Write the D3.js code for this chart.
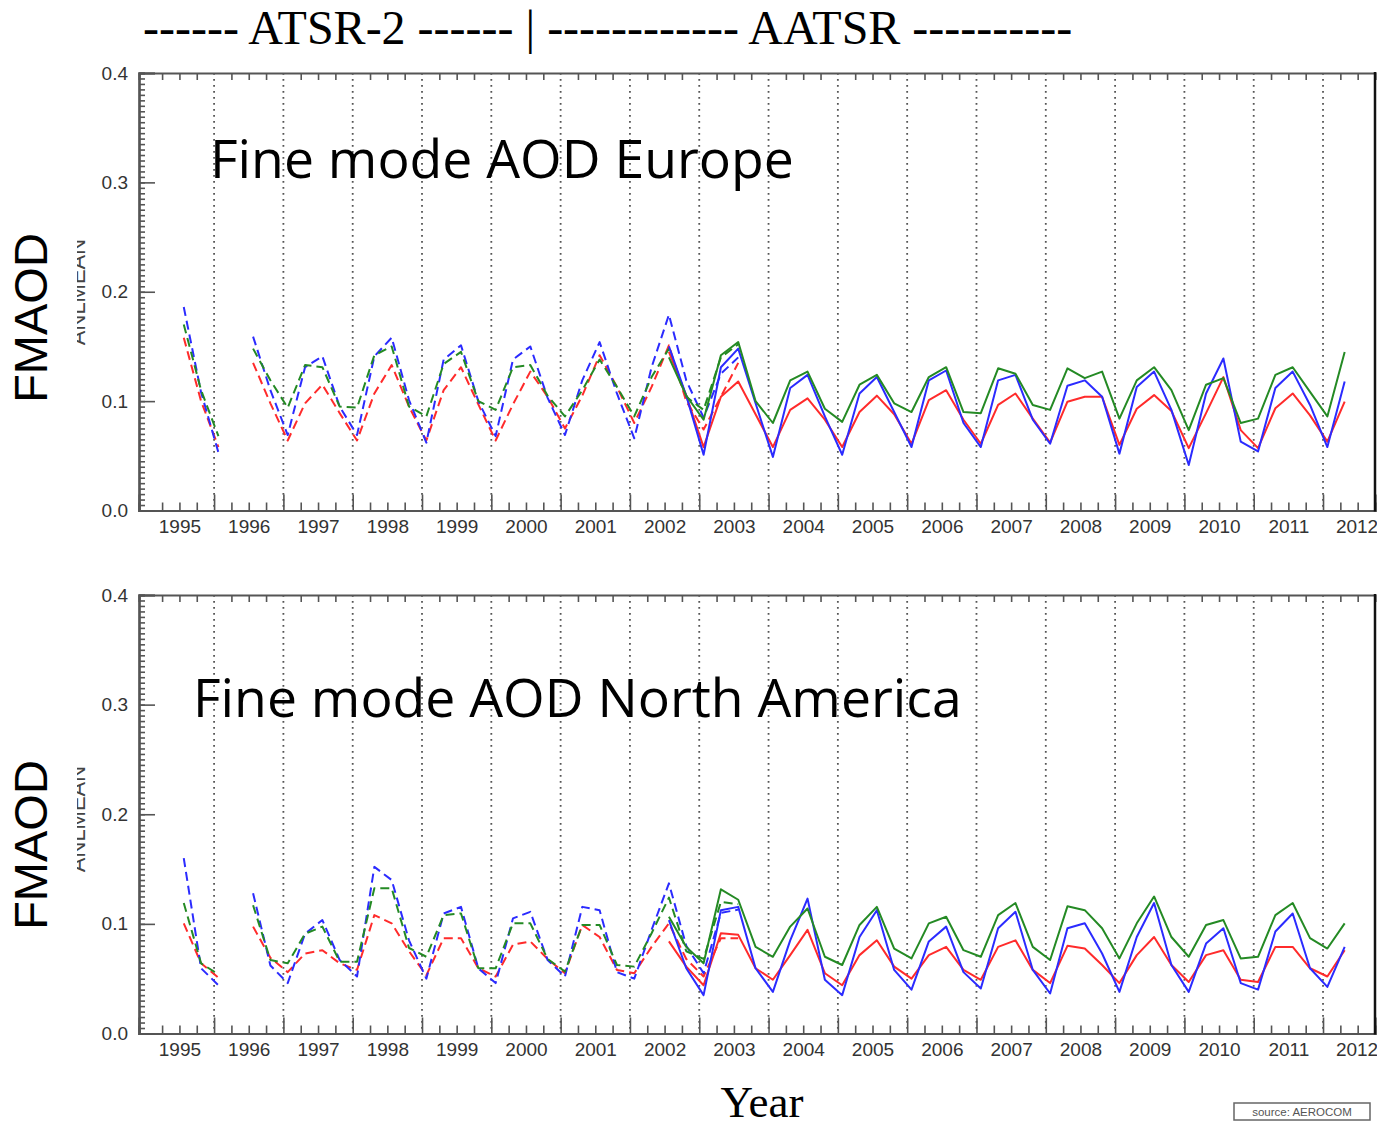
<!DOCTYPE html>
<html>
<head>
<meta charset="utf-8">
<script src="https://cdn.jsdelivr.net/npm/d3@7"></script>
<style>
  body { margin: 0; background: #fff; }
  svg { display: block; }
</style>
</head>
<body>
<svg id="chart" width="1377" height="1126"></svg>
<script>
// ---- Seasonal categories -------------------------------------------------
const seasonNames = ["DJF", "MAM", "JJA", "SON"];

function seasonRange(from, to) {
  const [y0, s0] = from.split("-");
  const [y1, s1] = to.split("-");
  const out = [];
  let y = +y0, i = seasonNames.indexOf(s0);
  while (y < +y1 || (y === +y1 && i <= seasonNames.indexOf(s1))) {
    out.push(y + "-" + seasonNames[i]);
    i++; if (i === 4) { i = 0; y++; }
  }
  return out;
}

// ATSR-2 record (dashed) and AATSR record (solid)
const atsr2Seasons = seasonRange("1995-JJA", "2003-JJA");
const aatsrSeasons = seasonRange("2002-JJA", "2012-MAM");

const yearLabels = [1995, 1996, 1997, 1998, 1999, 2000, 2001, 2002, 2003,
                    2004, 2005, 2006, 2007, 2008, 2009, 2010, 2011, 2012];
const yTickValues = [0.0, 0.1, 0.2, 0.3, 0.4];

// ---- Europe, fine mode AOD ----------------------------------------------
const eurAtsr2Red = [0.158, 0.100, 0.058, null, 0.135, 0.098, 0.064, 0.098, 0.115, 0.089,
  0.064, 0.107, 0.133, 0.095, 0.064, 0.110, 0.131, 0.097, 0.064, 0.097,
  0.127, 0.104, 0.075, 0.105, 0.142, 0.113, 0.080, 0.113, 0.151, 0.100,
  0.074, 0.104, 0.135];
const eurAtsr2Blue = [0.186, 0.108, 0.053, null, 0.159, 0.110, 0.069, 0.131, 0.141, 0.095,
  0.069, 0.141, 0.158, 0.101, 0.062, 0.138, 0.151, 0.100, 0.068, 0.138,
  0.150, 0.103, 0.069, 0.119, 0.154, 0.107, 0.066, 0.131, 0.179, 0.119,
  0.085, 0.125, 0.140];
const eurAtsr2Green = [0.170, 0.110, 0.068, null, 0.148, 0.119, 0.094, 0.133, 0.131, 0.095,
  0.094, 0.142, 0.150, 0.095, 0.086, 0.134, 0.145, 0.100, 0.092, 0.131,
  0.133, 0.105, 0.086, 0.110, 0.138, 0.113, 0.086, 0.122, 0.148, 0.104,
  0.092, 0.140, 0.152];

const eurAatsrRed = [0.145, 0.105, 0.058, 0.104, 0.118, 0.088, 0.058, 0.092, 0.1025, 0.083,
  0.058, 0.090, 0.105, 0.088, 0.061, 0.101, 0.110, 0.083, 0.061, 0.0965,
  0.107, 0.084, 0.062, 0.0995, 0.104, 0.104, 0.060, 0.093, 0.1055, 0.091,
  0.057, 0.089, 0.122, 0.0735, 0.057, 0.0935, 0.107, 0.087, 0.063, 0.0995];
const eurAatsrBlue = [0.150, 0.105, 0.051, 0.131, 0.148, 0.098, 0.049, 0.112, 0.124, 0.086,
  0.051, 0.107, 0.122, 0.090, 0.058, 0.119, 0.128, 0.080, 0.058, 0.119,
  0.124, 0.083, 0.061, 0.114, 0.119, 0.104, 0.052, 0.113, 0.127, 0.092,
  0.0416, 0.107, 0.139, 0.063, 0.054, 0.112, 0.127, 0.0965, 0.058, 0.118];
const eurAatsrGreen = [0.140, 0.105, 0.083, 0.142, 0.154, 0.100, 0.080, 0.119, 0.127, 0.093,
  0.081, 0.115, 0.124, 0.098, 0.090, 0.122, 0.131, 0.090, 0.089, 0.130,
  0.125, 0.0965, 0.092, 0.130, 0.121, 0.127, 0.084, 0.119, 0.131, 0.110,
  0.0735, 0.115, 0.121, 0.080, 0.084, 0.124, 0.131, 0.1085, 0.086, 0.145];

// ---- North America, fine mode AOD ---------------------------------------
const namAtsr2Red = [0.1005, 0.064, 0.051, null, 0.0975, 0.069, 0.056, 0.073, 0.076, 0.064,
  0.058, 0.108, 0.1005, 0.075, 0.053, 0.087, 0.087, 0.0595, 0.052, 0.081,
  0.084, 0.068, 0.055, 0.099, 0.088, 0.058, 0.055, 0.079, 0.1005, 0.068,
  0.052, 0.087, 0.087];
const namAtsr2Blue = [0.160, 0.0595, 0.044, null, 0.128, 0.062, 0.046, 0.091, 0.1035, 0.067,
  0.052, 0.152, 0.140, 0.085, 0.050, 0.1095, 0.1155, 0.0595, 0.046, 0.105,
  0.111, 0.067, 0.052, 0.1155, 0.1125, 0.056, 0.050, 0.0945, 0.137, 0.080,
  0.055, 0.110, 0.113];
const namAtsr2Green = [0.119, 0.064, 0.054, null, 0.117, 0.067, 0.064, 0.091, 0.0975, 0.0655,
  0.0655, 0.1325, 0.1325, 0.078, 0.070, 0.108, 0.1095, 0.0595, 0.0595, 0.1005,
  0.1005, 0.068, 0.0565, 0.099, 0.099, 0.0625, 0.061, 0.0915, 0.124, 0.075,
  0.068, 0.120, 0.118];

const namAatsrRed = [0.084, 0.061, 0.044, 0.0915, 0.090, 0.0595, 0.049, 0.0715, 0.0945, 0.055,
  0.044, 0.0715, 0.085, 0.061, 0.050, 0.0715, 0.079, 0.058, 0.049, 0.079,
  0.085, 0.058, 0.046, 0.080, 0.0775, 0.0625, 0.046, 0.0715, 0.088, 0.0625,
  0.047, 0.0715, 0.076, 0.049, 0.047, 0.079, 0.079, 0.0595, 0.052, 0.076];
const namAatsrBlue = [0.1035, 0.0595, 0.035, 0.1125, 0.1155, 0.0595, 0.038, 0.085, 0.123, 0.049,
  0.035, 0.088, 0.1125, 0.058, 0.040, 0.084, 0.0975, 0.056, 0.041, 0.096,
  0.111, 0.058, 0.0365, 0.096, 0.1005, 0.073, 0.038, 0.088, 0.119, 0.0625,
  0.038, 0.082, 0.096, 0.046, 0.040, 0.093, 0.1095, 0.0595, 0.0425, 0.079];
const namAatsrGreen = [0.1065, 0.079, 0.064, 0.1315, 0.122, 0.079, 0.070, 0.0975, 0.114, 0.070,
  0.0625, 0.099, 0.1155, 0.0775, 0.0685, 0.1005, 0.1065, 0.076, 0.070, 0.108,
  0.119, 0.079, 0.067, 0.116, 0.1125, 0.096, 0.0685, 0.1005, 0.125, 0.088,
  0.070, 0.099, 0.1035, 0.0685, 0.070, 0.108, 0.119, 0.087, 0.0775, 0.1005];

// ---- Layout ---------------------------------------------------------------
const COLORS = { red: "#ff2b2b", blue: "#2b2bff", green: "#248a24" };
const AXIS_COLOR = "#555";
const LABEL_FONT = "'Liberation Sans', Arial, sans-serif";

const panels = [
  { title: "Fine mode AOD Europe", top: 73, bottom: 510.5, titleX: 210, titleY: 178, ylabelY: 318,
    series: [
      [eurAtsr2Red, atsr2Seasons, "red", true], [eurAtsr2Blue, atsr2Seasons, "blue", true],
      [eurAtsr2Green, atsr2Seasons, "green", true],
      [eurAatsrRed, aatsrSeasons, "red", false], [eurAatsrBlue, aatsrSeasons, "blue", false],
      [eurAatsrGreen, aatsrSeasons, "green", false]] },
  { title: "Fine mode AOD North America", top: 595, bottom: 1033.5, titleX: 193, titleY: 717, ylabelY: 845,
    series: [
      [namAtsr2Red, atsr2Seasons, "red", true], [namAtsr2Blue, atsr2Seasons, "blue", true],
      [namAtsr2Green, atsr2Seasons, "green", true],
      [namAatsrRed, aatsrSeasons, "red", false], [namAatsrBlue, aatsrSeasons, "blue", false],
      [namAatsrGreen, aatsrSeasons, "green", false]] }
];

const LEFT = 139, RIGHT = 1375;

// Time axis in decimal years; plotted range runs Dec 1994 .. Oct 2012
const x = d3.scaleLinear().domain([1995 - 1 / 12, 2012 + 9 / 12]).range([LEFT, RIGHT]);

// Season mid-point as decimal year
function seasonTime(label) {
  const [y, s] = label.split("-");
  return +y + (seasonNames.indexOf(s) * 3 + 0.75) / 12;
}

const svg = d3.select("#chart");
svg.append("rect").attr("width", 1377).attr("height", 1126).attr("fill", "#fff");

const yearBounds = d3.range(1996, 2013);
const quarterTicks = d3.range(1995 * 4, 2012 * 4 + 3).map(q => q / 4)
  .filter(t => t > x.domain()[0] && t < x.domain()[1] && t % 1 !== 0);
const yMinor = d3.range(0, 81).map(i => i * 0.005);

const defs = svg.append("defs");

panels.forEach((p, pi) => {
  const y = d3.scaleLinear().domain([0, 0.4]).range([p.bottom, p.top]);
  const g = svg.append("g");

  // dotted year separators
  g.append("g").selectAll("line").data(yearBounds).join("line")
    .attr("x1", d => x(d)).attr("x2", d => x(d))
    .attr("y1", p.top).attr("y2", p.bottom)
    .attr("stroke", "#555").attr("stroke-width", 1.8)
    .attr("stroke-dasharray", "1.8,4.2");

  // series
  const line = d3.line()
    .defined(d => d.v != null)
    .x(d => x(seasonTime(d.s)))
    .y(d => y(d.v));
  p.series.forEach(([vals, seasons, col, dashed]) => {
    const pts = vals.map((v, i) => ({ v, s: seasons[i] }));
    g.append("path").datum(pts)
      .attr("d", line)
      .attr("fill", "none")
      .attr("stroke", COLORS[col])
      .attr("stroke-width", 2)
      .attr("stroke-linejoin", "round")
      .attr("stroke-dasharray", dashed ? "9,5" : null);
  });

  // bottom axis: major ticks at year boundaries, minor at quarters
  const bottomMajor = g.append("g").attr("transform", `translate(0,${p.bottom})`)
    .call(d3.axisBottom(x).tickValues(yearBounds).tickSize(-16).tickFormat(""));
  const bottomMinor = g.append("g").attr("transform", `translate(0,${p.bottom})`)
    .call(d3.axisBottom(x).tickValues(quarterTicks).tickSize(-8).tickFormat(""));
  const bottomLabels = g.append("g").attr("transform", `translate(0,${p.bottom})`)
    .call(d3.axisBottom(x).tickValues(yearLabels.map(yy => yy + 0.5))
      .tickSize(0).tickPadding(9).tickFormat(d => String(Math.floor(d))));
  const topMinor = g.append("g").attr("transform", `translate(0,${p.top})`)
    .call(d3.axisTop(x).tickValues(quarterTicks).tickSize(-7).tickFormat(""));

  // left axis
  const leftMinor = g.append("g").attr("transform", `translate(${LEFT},0)`)
    .call(d3.axisLeft(y).tickValues(yMinor).tickSize(-6).tickFormat(""));
  const leftMajor = g.append("g").attr("transform", `translate(${LEFT},0)`)
    .call(d3.axisLeft(y).tickValues(yTickValues).tickSize(-16).tickPadding(11)
      .tickFormat(d3.format(".1f")));

  [bottomMajor, bottomMinor, bottomLabels, topMinor, leftMinor, leftMajor].forEach(ax => {
    ax.select(".domain").attr("stroke", AXIS_COLOR).attr("stroke-width", 2.2);
    ax.selectAll(".tick line").attr("stroke", AXIS_COLOR).attr("stroke-width", 1.6);
    ax.selectAll("text").attr("fill", "#333").style("font-family", LABEL_FONT).style("font-size", "19px");
  });
  bottomLabels.select(".domain").remove();
  // last year label sits on the right edge: keep it inside the page
  bottomLabels.selectAll(".tick text").filter(d => Math.floor(d) === 2012)
    .attr("text-anchor", "end").attr("dx", "20px");

  // right frame edge
  g.append("line").attr("x1", RIGHT).attr("x2", RIGHT).attr("y1", p.top - 1).attr("y2", p.bottom + 1)
    .attr("stroke", "#111").attr("stroke-width", 2.5);

  // panel title
  g.append("text").attr("x", p.titleX).attr("y", p.titleY)
    .style("font-family", "'Open Sans', 'Noto Sans', sans-serif").style("font-size", "53.5px")
    .attr("fill", "#000").text(p.title);

  // partially hidden original axis name
  const clipId = "clipAxisName" + pi;
  defs.append("clipPath").attr("id", clipId).append("rect")
    .attr("x", 77).attr("y", p.top).attr("width", 12).attr("height", p.bottom - p.top);
  g.append("g").attr("clip-path", `url(#${clipId})`)
    .append("text")
    .attr("transform", `translate(85,${p.ylabelY - 26}) rotate(-90)`)
    .attr("text-anchor", "middle")
    .style("font-family", LABEL_FONT).style("font-size", "22px").attr("fill", "#444")
    .text("ANLMEAN");

  // y axis title
  g.append("text")
    .attr("transform", `translate(47,${p.ylabelY}) rotate(-90)`)
    .attr("text-anchor", "middle")
    .style("font-family", LABEL_FONT).style("font-size", "47px").attr("fill", "#000")
    .text("FMAOD");
});

// sensor period header
svg.append("text").attr("x", 143).attr("y", 43.5)
  .style("font-family", "'Liberation Serif', 'Times New Roman', serif").style("font-size", "48px")
  .attr("fill", "#000")
  .text("------ ATSR-2 ------ | ------------ AATSR ----------");

// x axis title
svg.append("text").attr("x", 762).attr("y", 1117).attr("text-anchor", "middle")
  .style("font-family", "'Liberation Serif', 'Times New Roman', serif").style("font-size", "45px")
  .attr("fill", "#000").text("Year");

// source note
svg.append("rect").attr("x", 1234).attr("y", 1103).attr("width", 136).attr("height", 17)
  .attr("fill", "#fff").attr("stroke", "#666").attr("stroke-width", 1.5);
svg.append("text").attr("x", 1302).attr("y", 1116).attr("text-anchor", "middle")
  .style("font-family", LABEL_FONT).style("font-size", "11.5px").attr("fill", "#555")
  .text("source: AEROCOM");
</script>
</body>
</html>
